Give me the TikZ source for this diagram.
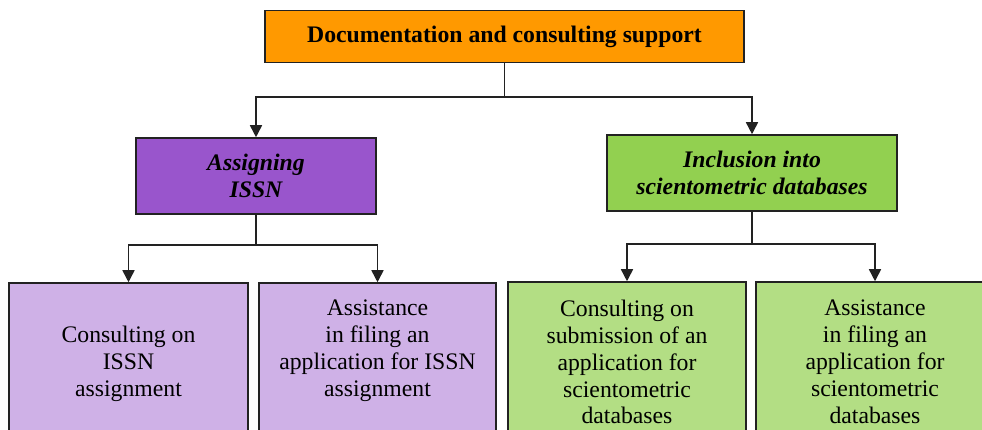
\documentclass[tikz,border=0pt]{standalone}
\usepackage{fontspec}
\setmainfont{Liberation Serif}
\usetikzlibrary{arrows.meta}
\definecolor{topor}{HTML}{FF9900}
\definecolor{purp}{HTML}{9955CC}
\definecolor{lpurp}{HTML}{CFB1E7}
\definecolor{grn}{HTML}{92D050}
\definecolor{lgrn}{HTML}{B3DE84}
\definecolor{edge}{HTML}{222222}
\tikzset{
  boxbase/.style={draw=edge, line width=0.9pt, rectangle, inner sep=0pt, align=center,
    font=\fontsize{13.5}{15.3}\selectfont},
  topbox/.style={boxbase, fill=topor, font=\fontsize{13.5}{15.3}\selectfont\bfseries},
  midpurp/.style={boxbase, fill=purp, font=\fontsize{13.5}{15.3}\selectfont\bfseries\itshape},
  midgrn/.style={boxbase, fill=grn, font=\fontsize{13.5}{15.3}\selectfont\bfseries\itshape},
  lowpurp/.style={boxbase, fill=lpurp},
  lowgrn/.style={boxbase, fill=lgrn},
  lbl/.style={inner sep=0pt, align=center, font=\fontsize{13.5}{15.3}\selectfont},
  conn/.style={draw=edge, line width=0.9pt},
  arr/.style={conn, -{Triangle[length=2.4mm,width=2.4mm]}}
}
\begin{document}
\begin{tikzpicture}[x=0.02cm, y=-0.02cm]
\useasboundingbox (0,0) rectangle (982,429);
\clip (0,0) rectangle (982,429);

\node[topbox, minimum width=9.58cm, minimum height=1.04cm] (top) at (504.5,36.5) {Documentation and consulting support};

\node[midpurp, minimum width=4.8cm, minimum height=1.52cm] (issn) at (256,176) {Assigning\\ISSN};
\node[midgrn, minimum width=5.8cm, minimum height=1.52cm] (sci) at (752,173) {Inclusion into\\scientometric databases};

\node[lowpurp, minimum width=4.78cm, minimum height=3.3cm] (b1) at (128.5,365.5) {};
\node[lowpurp, minimum width=4.74cm, minimum height=3.3cm] (b2) at (377.5,365.5) {};
\node[lowgrn, minimum width=4.76cm, minimum height=3.3cm] (b3) at (627,364.5) {};
\node[lowgrn, minimum width=4.76cm, minimum height=3.3cm] (b4) at (875,364.5) {};

\node[lbl] (t1) at (128.5,364) {Consulting on\\ISSN\\assignment};
\node[lbl] (t2) at (377.5,351) {Assistance\\in filing an\\application for ISSN\\assignment};
\node[lbl] (t3) at (627,362) {Consulting on\\submission of an\\application for\\scientometric\\databases};
\node[lbl] (t4) at (875,362) {Assistance\\in filing an\\application for\\scientometric\\databases};

% connectors
\coordinate (j0) at (top.south |- 0,97);
\coordinate (j1) at (issn.south |- 0,245);
\coordinate (j2) at (sci.south |- 0,244);
\draw[conn] (top.south) -- (j0);
\draw[arr] (j0) -| (issn.north);
\draw[arr] (j0) -| (sci.north);
\draw[conn] (issn.south) -- (j1);
\draw[arr] (j1) -| (b1.north);
\draw[arr] (j1) -| (b2.north);
\draw[conn] (sci.south) -- (j2);
\draw[arr] (j2) -| (b3.north);
\draw[arr] (j2) -| (b4.north);
\end{tikzpicture}
\end{document}
